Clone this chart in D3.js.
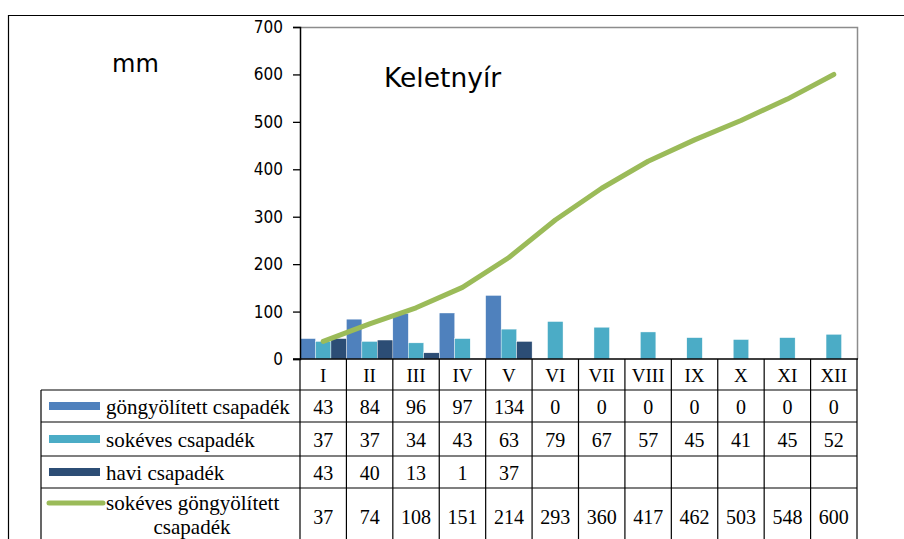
<!DOCTYPE html>
<html>
<head>
<meta charset="utf-8">
<script src="https://cdn.jsdelivr.net/npm/d3@7"></script>
<style>
  body { margin: 0; background: #fff; }
  svg { display: block; }
</style>
</head>
<body>
<div id="chart"></div>
<script>
const months = ['I', 'II', 'III', 'IV', 'V', 'VI', 'VII', 'VIII', 'IX', 'X', 'XI', 'XII'];
const cumulative = [43, 84, 96, 97, 134, 0, 0, 0, 0, 0, 0, 0];
const longTerm = [37, 37, 34, 43, 63, 79, 67, 57, 45, 41, 45, 52];
const monthly = [43, 40, 13, 1, 37, null, null, null, null, null, null, null];
const longTermCum = [37, 74, 108, 151, 214, 293, 360, 417, 462, 503, 548, 600];
const yTicks = [0, 100, 200, 300, 400, 500, 600, 700];

const seriesNames = ['göngyölített csapadék', 'sokéves csapadék', 'havi csapadék', 'sokéves göngyölített csapadék'];
const seriesColors = ['#4F81BD', '#4BACC6', '#2C4D75', '#9BBB59'];

const SERIF = "'Liberation Serif', 'Times New Roman', 'DejaVu Serif', serif";
const SANS = "'DejaVu Sans', Verdana, sans-serif";
const SANS_COND = "'DejaVu Sans Condensed', 'DejaVu Sans', sans-serif";

const svgWidth = 904;
const svgHeight = 539;

const plot = { left: 300, right: 857, top: 27, bottom: 359 };

const svg = d3.select('#chart')
              .append('svg')
              .attr('width', svgWidth)
              .attr('height', svgHeight);

// outer frame (top and left visible)
svg.append('path')
   .attr('d', `M8.5,${svgHeight} V15.5 H${svgWidth}`)
   .attr('fill', 'none')
   .attr('stroke', '#000')
   .attr('stroke-width', 1.2);

const x = d3.scaleBand()
            .domain(months)
            .range([plot.left, plot.right])
            .paddingInner(0)
            .paddingOuter(0);

const xSub = d3.scaleBand()
               .domain([0, 1, 2])
               .range([0, x.bandwidth()]);

const y = d3.scaleLinear()
            .domain([0, 700])
            .range([plot.bottom, plot.top]);

// plot area border (gray top/right)
svg.append('path')
   .attr('d', `M${plot.left},${plot.top + 0.5} H${plot.right + 0.5} V${plot.bottom}`)
   .attr('fill', 'none')
   .attr('stroke', '#8c8c8c')
   .attr('stroke-width', 1.5);

// bars
const barSeries = [cumulative, longTerm, monthly];
barSeries.forEach((values, si) => {
    svg.append('g')
       .selectAll('rect')
       .data(values.map((v, i) => ({ m: months[i], v })).filter(d => d.v))
       .enter().append('rect')
       .attr('x', d => x(d.m) + xSub(si))
       .attr('y', d => y(d.v))
       .attr('width', xSub.bandwidth())
       .attr('height', d => y(0) - y(d.v))
       .attr('fill', seriesColors[si])
       .attr('stroke', '#fff')
       .attr('stroke-width', 0.4);
});

// line
const line = d3.line()
               .x((d, i) => x(months[i]) + x.bandwidth() / 2)
               .y(d => y(d));

svg.append('path')
   .datum(longTermCum)
   .attr('d', line)
   .attr('fill', 'none')
   .attr('stroke', seriesColors[3])
   .attr('stroke-width', 5)
   .attr('stroke-linecap', 'round')
   .attr('stroke-linejoin', 'round');

// y axis
const yAxis = d3.axisLeft(y)
                .tickValues(yTicks)
                .tickSize(7)
                .tickPadding(10);

const yAxisG = svg.append('g')
                  .attr('transform', `translate(${plot.left},0)`)
                  .call(yAxis)
                  .attr('font-family', SANS_COND)
                  .attr('font-size', 17);
yAxisG.select('.domain').attr('stroke', '#000').attr('stroke-width', 1.5);
yAxisG.selectAll('.tick line').attr('stroke', '#000').attr('stroke-width', 1.3);
yAxisG.selectAll('.tick text').attr('fill', '#000');

// x axis line
svg.append('line')
   .attr('x1', plot.left - 7).attr('x2', plot.right + 1)
   .attr('y1', plot.bottom).attr('y2', plot.bottom)
   .attr('stroke', '#000')
   .attr('stroke-width', 1.5);

// titles
svg.append('text')
   .attr('x', 112)
   .attr('y', 72)
   .attr('font-family', SANS)
   .attr('font-size', 24)
   .text('mm');

svg.append('text')
   .attr('x', 384)
   .attr('y', 87)
   .attr('font-family', SANS)
   .attr('font-size', 26.5)
   .text('Keletnyír');

// data table
const tableLeft = 41;
const rowEdges = [plot.bottom, 390, 422, 456, 488, 548];
const rows = [cumulative, longTerm, monthly, longTermCum];

const grid = svg.append('g').attr('stroke', '#000').attr('stroke-width', 1.2);

// horizontal lines
rowEdges.slice(1).forEach(ry => {
    grid.append('line')
        .attr('x1', tableLeft).attr('x2', plot.right)
        .attr('y1', ry).attr('y2', ry);
});
// vertical lines for month columns
months.forEach(m => {
    grid.append('line')
        .attr('x1', x(m)).attr('x2', x(m))
        .attr('y1', plot.bottom).attr('y2', svgHeight);
});
grid.append('line')
    .attr('x1', plot.right).attr('x2', plot.right)
    .attr('y1', plot.bottom).attr('y2', svgHeight);
grid.append('line')
    .attr('x1', tableLeft).attr('x2', tableLeft)
    .attr('y1', rowEdges[1]).attr('y2', svgHeight);

const table = svg.append('g')
                 .attr('font-family', SERIF)
                 .attr('font-size', 20)
                 .attr('fill', '#000');

// month labels
table.append('g')
     .selectAll('text')
     .data(months)
     .enter().append('text')
     .attr('x', d => x(d) + x.bandwidth() / 2)
     .attr('y', (rowEdges[0] + rowEdges[1]) / 2 + 1)
     .attr('dy', '0.35em')
     .attr('text-anchor', 'middle')
     .attr('font-size', 19)
     .text(d => d);

// values
rows.forEach((values, ri) => {
    const cy = ri === 3 ? 517 : (rowEdges[ri + 1] + rowEdges[ri + 2]) / 2 + 1;
    table.append('g')
         .selectAll('text')
         .data(values.map((v, i) => ({ m: months[i], v })).filter(d => d.v !== null))
         .enter().append('text')
         .attr('x', d => x(d.m) + x.bandwidth() / 2)
         .attr('y', cy)
         .attr('dy', '0.35em')
         .attr('text-anchor', 'middle')
         .text(d => d.v);
});

// legend cells
seriesNames.forEach((name, ri) => {
    const top = rowEdges[ri + 1];
    if (ri < 3) {
        const cy = (top + rowEdges[ri + 2]) / 2;
        table.append('rect')
             .attr('x', 49).attr('y', cy - 4)
             .attr('width', 51).attr('height', 8)
             .attr('fill', seriesColors[ri]);
        table.append('text')
             .attr('x', 106).attr('y', cy + 1)
             .attr('dy', '0.35em')
             .attr('font-size', 21)
             .text(name);
    } else {
        table.append('line')
             .attr('x1', 49).attr('x2', 103)
             .attr('y1', 503).attr('y2', 503)
             .attr('stroke', seriesColors[3])
             .attr('stroke-width', 5)
             .attr('stroke-linecap', 'round');
        table.append('text')
             .attr('x', 106).attr('y', 503)
             .attr('dy', '0.35em')
             .attr('font-size', 21)
             .text('sokéves göngyölített');
        table.append('text')
             .attr('x', 192).attr('y', 527)
             .attr('dy', '0.35em')
             .attr('text-anchor', 'middle')
             .attr('font-size', 21)
             .text('csapadék');
    }
});
</script>
</body>
</html>
